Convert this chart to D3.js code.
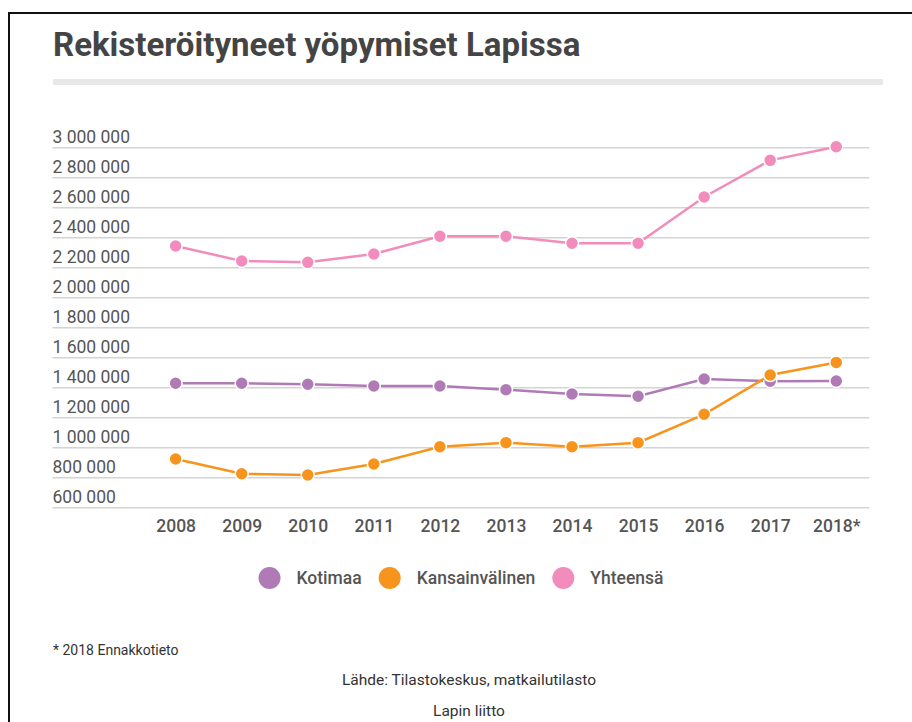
<!DOCTYPE html>
<html>
<head>
<meta charset="utf-8">
<script src="https://cdn.jsdelivr.net/npm/d3@7"></script>
<style>
  html, body { margin: 0; padding: 0; background: #fff; }
  svg { display: block; font-family: Roboto, "Noto Sans", sans-serif; }
</style>
</head>
<body>
<svg id="chart" width="912" height="722"></svg>
<script>
const years = ["2008","2009","2010","2011","2012","2013","2014","2015","2016","2017","2018*"];
const kotimaa = [1427000,1427000,1420000,1409000,1409000,1384000,1355000,1340000,1455000,1440000,1442000];
const kansainvalinen = [922000,824000,815000,889000,1004000,1031000,1004000,1031000,1220000,1482000,1566000];
const yhteensa = [2342000,2242000,2233000,2289000,2407000,2407000,2360000,2360000,2669000,2913000,3004000];
const seriesNames = ["Kotimaa","Kansainvälinen","Yhteensä"];
const seriesColors = ["#b07ab6","#f7941d","#f28cbc"];
const yTicks = [600000,800000,1000000,1200000,1400000,1600000,1800000,2000000,2200000,2400000,2600000,2800000,3000000];
const titleText = "Rekisteröityneet yöpymiset Lapissa";
const footnote = "* 2018 Ennakkotieto";
const sourceText = "Lähde: Tilastokeskus, matkailutilasto";
const orgText = "Lapin liitto";

const svg = d3.select("#chart");

// frame
svg.append("rect").attr("x", 9).attr("y", 13).attr("width", 920).attr("height", 720)
  .attr("fill", "none").attr("stroke", "#111").attr("stroke-width", 2);

// title
svg.append("text").attr("x", 53).attr("y", 56).text(titleText)
  .attr("font-size", 33).attr("font-weight", 700).attr("fill", "#444");
svg.append("rect").attr("x", 53).attr("y", 79).attr("width", 830).attr("height", 6).attr("fill", "#e8e8e8");

const x = d3.scalePoint().domain(years).range([142.6, 869.3]).padding(0.5);
const y = d3.scaleLinear().domain([600000, 3000000]).range([507.3, 147.3]);
const fmt = v => d3.format(",")(v).replace(/,/g, " ");

// gridlines + labels
const gridW = 869.3 - 52.5;
const yAxis = d3.axisLeft(y).tickValues(yTicks).tickSize(0).tickFormat(fmt);
const gy = svg.append("g").attr("transform", "translate(52.5,0)").call(yAxis);
gy.select(".domain").remove();
gy.selectAll(".tick line").attr("stroke", "#d4d4d4").attr("stroke-width", 1.5).attr("x1", 0).attr("x2", gridW);
gy.selectAll(".tick text").attr("x", 0).attr("dy", "-0.28em").attr("text-anchor", "start")
  .attr("font-size", 17.5).attr("font-family", "Roboto").attr("fill", "#555");

// x axis labels
const xAxis = d3.axisBottom(x).tickSize(0).tickPadding(0);
const gx = svg.append("g").attr("transform", "translate(0,515)").call(xAxis);
gx.select(".domain").remove();
gx.selectAll(".tick text").attr("dy", "0.95em").attr("font-size", 17.5).attr("font-family", "Roboto")
  .attr("font-weight", 500).attr("fill", "#555");

// lines
const seriesData = [kotimaa, kansainvalinen, yhteensa];
const line = d3.line().x((d, i) => x(years[i])).y(d => y(d));
seriesData.forEach((vals, si) => {
  const g = svg.append("g");
  g.append("path").datum(vals).attr("d", line).attr("fill", "none")
    .attr("stroke", seriesColors[si]).attr("stroke-width", 2.5);
  g.selectAll("circle").data(vals).join("circle")
    .attr("cx", (d, i) => x(years[i])).attr("cy", d => y(d)).attr("r", 6.5)
    .attr("fill", seriesColors[si]).attr("stroke", "#fff").attr("stroke-width", 1.5);
});

// legend
const legend = svg.append("g");
let lx = 0;
seriesNames.forEach((name, i) => {
  const it = legend.append("g").attr("transform", "translate(" + lx + ",0)");
  it.append("circle").attr("cx", 11).attr("cy", 0).attr("r", 11).attr("fill", seriesColors[i]);
  const t = it.append("text").attr("x", 38).attr("y", 6).text(name)
    .attr("font-size", 17.5).attr("font-weight", 500).attr("fill", "#555");
  lx += 38 + t.node().getComputedTextLength() + 17;
});
const lw = lx - 17;
legend.attr("transform", "translate(" + (461 - lw / 2) + ",578)");

// footer
svg.append("text").attr("x", 53).attr("y", 655).text(footnote)
  .attr("font-size", 14).attr("font-weight", 400).attr("fill", "#333");
svg.append("text").attr("x", 469).attr("y", 685).attr("text-anchor", "middle").text(sourceText)
  .attr("font-size", 15.5).attr("font-weight", 400).attr("fill", "#333");
svg.append("text").attr("x", 469).attr("y", 716).attr("text-anchor", "middle").text(orgText)
  .attr("font-size", 15.5).attr("font-weight", 400).attr("fill", "#333");
</script>
</body>
</html>
